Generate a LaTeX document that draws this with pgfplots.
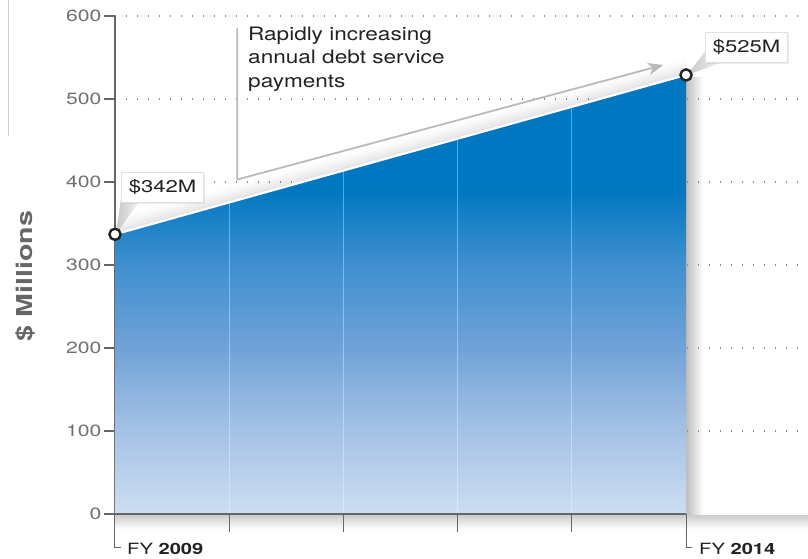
\documentclass[border=0pt]{standalone}
\usepackage{pgfplots}
\pgfplotsset{compat=1.18}
\usepackage{fontspec}
\setmainfont{TeX Gyre Heros}[FakeStretch=1.3]
\newfontfamily\annfont{TeX Gyre Heros}[FakeStretch=1.22]
\usetikzlibrary{arrows.meta,shadows}

\definecolor{blueTop}{RGB}{0,119,192}
\definecolor{blueA}{RGB}{60,142,207}
\definecolor{blueB}{RGB}{112,162,215}
\definecolor{blueC}{RGB}{162,192,229}
\definecolor{blueBot}{RGB}{206,222,241}
\definecolor{axisgray}{RGB}{102,102,102}
\definecolor{tickgray}{RGB}{112,112,112}
\definecolor{gridgray}{RGB}{140,140,140}
\definecolor{arrowgray}{RGB}{185,185,190}
\definecolor{textdark}{RGB}{34,34,34}

\pgfdeclareverticalshading{areashade}{100bp}{color(0bp)=(blueBot); color(25bp)=(blueBot);
  color(35bp)=(blueC); color(44bp)=(blueB); color(54bp)=(blueA); color(62bp)=(blueTop); color(100bp)=(blueTop)}

\pgfplotstableread{
year value
2009 337
2010 375.4
2011 413.8
2012 452.2
2013 490.6
2014 529
}\debt

\begin{document}
\begin{tikzpicture}
\path[use as bounding box] (-115pt,-44pt) rectangle (693pt,514pt);
% shadows behind the area
\shade[top color=black!20, bottom color=white] (0pt,-1pt) rectangle (693pt,-15pt);
\shade[left color=black!26, right color=white] (571pt,0pt) rectangle (588pt,436pt);
\draw[black!18, line width=1pt] (-106pt,514pt) -- (-106pt,378pt);

\begin{axis}[
  scale only axis,
  width=693pt, height=498pt,
  xmin=2009, xmax=2015.068,
  ymin=0, ymax=600,
  axis x line=none,
  axis y line*=left,
  y axis line style={draw=axisgray, line width=1.3pt},
  ytick={100,200,...,600},
  extra y ticks={0},
  extra y tick style={grid=none},
  ymajorgrids,
  major grid style={draw=gridgray, line width=1.3pt, dash pattern=on 1.3pt off 9.7pt},
  tick align=outside,
  major tick length=11pt,
  ytick style={draw=axisgray, line width=1.3pt},
  yticklabel style={font=\fontsize{16.3}{19}\selectfont, text=tickgray, xshift=1pt},
  /pgf/number format/assume math mode=true,
  clip=false
]
  % soft shadow above the top edge
  \foreach \s/\o in {1.3/0.10, 3.9/0.075, 6.5/0.055, 9.1/0.038, 11.7/0.024, 14.3/0.012} {
    \edef\tmp{\noexpand\addplot[draw=black, opacity=\o, line width=2.6pt, line cap=butt, yshift=\s pt, forget plot]
      table[x=year, y=value] {\noexpand\debt};}
    \tmp
  }
  % area
  \addplot[draw=none, shading=areashade] table[x=year, y=value] {\debt} \closedcycle;
  \addplot[ycomb, draw=white, opacity=0.35, line width=0.9pt, no markers]
    coordinates {(2010,375.4) (2011,413.8) (2012,452.2) (2013,490.6)};
  \addplot[draw=white, line width=2.2pt, no markers] table[x=year, y=value] {\debt};

  % annotation arrow
  \draw[arrowgray, line width=1.8pt, -{Stealth[length=15pt, width=12pt, inset=4pt]}]
    (axis cs:2010.07,585) -- (axis cs:2010.07,403) -- (axis cs:2013.80,541);

  % callouts
  \shade[left color=black!22, right color=black!6] (axis cs:2009.0525,381) -- (axis cs:2009.20,374.7) -- (axis cs:2009.01,337) -- cycle;
  \node[anchor=south west, fill=white, draw=black!12, line width=1.2pt, inner sep=0pt,
        minimum width=82pt, minimum height=30pt, drop shadow={opacity=0.15, shadow xshift=1.5pt, shadow yshift=-1.5pt},
        font=\fontsize{17}{20}\selectfont, text=textdark]
    at (axis cs:2009.0525,374.7) {\$342M};
  \shade[left color=black!22, right color=black!6] (axis cs:2014.166,557) -- (axis cs:2014.30,543.4) -- (axis cs:2014.01,529) -- cycle;
  \node[anchor=south west, fill=white, draw=black!12, line width=1.2pt, inner sep=0pt,
        minimum width=82pt, minimum height=30pt, drop shadow={opacity=0.15, shadow xshift=1.5pt, shadow yshift=-1.5pt},
        font=\fontsize{17}{20}\selectfont, text=textdark]
    at (axis cs:2014.166,543.4) {\$525M};

  % end points
  \addplot[only marks, mark=*, mark size=5.6pt,
           mark options={fill=white, draw=textdark, line width=2.4pt}]
    coordinates {(2009,337) (2014,529)};
\end{axis}

% x axis, ticks and brackets
\draw[axisgray, line width=1.3pt] (0pt,0pt) -- (571pt,0pt);
\foreach \k in {1,2,3,4} \draw[axisgray, line width=1.3pt] (114.2pt*\k,0pt) -- (114.2pt*\k,-18pt);
\draw[axisgray, line width=1pt] (0pt,0pt) -- (0pt,-33pt) -- (6pt,-33pt);
\draw[axisgray, line width=1pt] (571pt,0pt) -- (571pt,-33pt) -- (577pt,-33pt);
\node[anchor=base west, inner sep=0pt, font=\fontsize{15.5}{18}\selectfont, text=textdark]
  at (12pt,-40pt) {FY \textbf{2009}};
\node[anchor=base west, inner sep=0pt, font=\fontsize{15.5}{18}\selectfont, text=textdark]
  at (584pt,-40pt) {FY \textbf{2014}};

% texts
\node[anchor=north west, inner sep=0pt, align=left, text=textdark,
      font=\annfont\fontsize{18.5}{23.3}\selectfont]
  at (133pt,487pt) {Rapidly increasing\\annual debt service\\payments};
\node[rotate=90, font=\bfseries\fontsize{22}{26}\selectfont, text=axisgray]
  at (-90pt,238pt) {\$ Millions};
\end{tikzpicture}
\end{document}
